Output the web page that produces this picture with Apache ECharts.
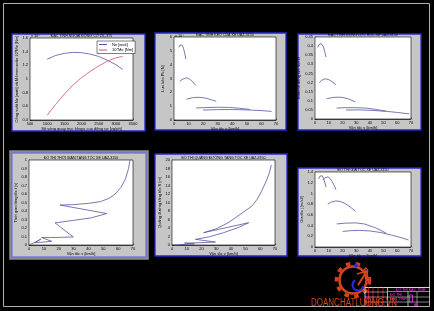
<!DOCTYPE html>
<html><head><meta charset="utf-8">
<script src="https://cdn.jsdelivr.net/npm/echarts@6/dist/echarts.min.js"></script>
<style>html,body{margin:0;padding:0;background:#000}#c{width:434px;height:311px}</style>
</head><body><div id="c"></div><script>
// ---------- DATA ----------
// Panel 1: engine external characteristic (values x 10^4)
const p1Rpm  = [1000,1250,1500,1750,2000,2250,2500,2750,3000,3200];
const p1Ne   = [1.29,1.345,1.375,1.39,1.385,1.365,1.33,1.275,1.21,1.14];
const p1Me10 = [0.47,0.63,0.78,0.91,1.02,1.11,1.19,1.26,1.31,1.33];
const p1Names = ['Ne [watt]','10*Me [Nm]'];

// Panel 2: traction force Pk (x 10^4 N) per gear, [v km/h, Pk]
const p2G1 = [[3.4,5.25],[4.2,5.42],[5.0,5.47],[5.8,5.4],[6.6,5.15],[7.4,4.8],[8.1,4.4]];
const p2G2 = [[3.9,2.8],[5.5,2.92],[7,3.0],[8.5,3.04],[10,3.0],[11.5,2.9],[13.2,2.72],[14.9,2.5]];
const p2G3 = [[8.5,1.5],[11,1.57],[13.5,1.62],[16.5,1.64],[19.5,1.62],[22.5,1.56],[25.8,1.46],[29,1.35]];
const p2G4 = [[15.3,0.87],[22,0.9],[30,0.92],[38,0.91],[45,0.85],[52,0.76]];
const p2G5 = [[20,0.72],[30,0.75],[40,0.76],[50,0.73],[60,0.68],[67,0.62]];

// Panel 3: dynamic factor D per gear
const p3G1 = [[1.9,0.393],[2.8,0.407],[3.6,0.413],[4.4,0.415],[5.3,0.41],[6.2,0.395],[7.1,0.37],[8,0.34]];
const p3G2 = [[3.1,0.2],[5,0.213],[6.5,0.219],[8,0.22],[10,0.216],[12,0.207],[13.7,0.198],[15.3,0.186]];
const p3G3 = [[8.5,0.111],[11.5,0.116],[14.5,0.119],[17.7,0.12],[21,0.117],[24.5,0.11],[29.4,0.094]];
const p3G4 = [[15.8,0.06],[22,0.062],[30,0.062],[37,0.06],[44,0.053],[51.8,0.043]];
const p3G5 = [[22.6,0.049],[32,0.05],[42,0.047],[52,0.042],[60,0.036],[68.8,0.028]];

// Panel 4: acceleration time (single MATLAB line through all gears) [v, t]
const p4Path = [[0.5,0.004],[4,0.03],[8,0.07],[4,0.027],[10,0.035],[15.3,0.043],
  [8.5,0.088],[15,0.088],[22,0.09],[29.8,0.095],
  [17.5,0.26],[30,0.29],[42,0.32],[52.3,0.37],
  [20.9,0.47],[30,0.475],[40,0.49],[48,0.51],[54,0.55],[58,0.6],[62,0.68],[65,0.78],[67,0.9],[68,1.0]];

// Panel 5: acceleration distance (single line) [v, S]
const p5Path = [[0.3,0],[4,0.03],[8,0.08],[5.6,0.06],[10,0.15],[15.3,0.25],
  [8.5,0.45],[15,0.5],[22,0.58],[29.5,0.7],
  [15.9,1.33],[25,1.9],[35,2.9],[45,4.1],[52.1,5.25],
  [21.5,2.9],[30,3.8],[38,5.2],[43,6.4],[48,7.6],[54.4,9.2],[58,10.8],[61.2,12.9],[64,15],[66,16.8],[67.5,18.8]];

// Panel 6: acceleration j per gear
const p6G1 = [[2.7,1.27],[3.5,1.32],[4.4,1.34],[5.3,1.33],[6.2,1.28],[7.1,1.21],[8,1.12]];
const p6G2 = [[5.6,1.25],[7,1.29],[8.3,1.31],[9.5,1.31],[11,1.28],[12.5,1.22],[14,1.15],[15.3,1.07]];
const p6G3 = [[9.3,0.8],[12,0.84],[15.3,0.86],[18.5,0.85],[22,0.81],[25.5,0.75],[29.4,0.67]];
const p6G4 = [[15.8,0.43],[22,0.445],[29.9,0.45],[36,0.43],[44,0.36],[51.8,0.26]];
const p6G5 = [[20.2,0.29],[26,0.305],[32.3,0.31],[40,0.3],[48,0.27],[56,0.22],[62,0.18],[68.3,0.13]];

const titles = [
  'ĐẶC TÍNH NGOÀI ĐỘNG CƠ ZIL-375',
  'ĐẶC TÍNH KÉO CỦA XE UAZ-3150',
  'ĐẶC TÍNH ĐỘNG LỰC HỌC XE UAZ-3150',
  'ĐỒ THỊ THỜI GIAN TĂNG TỐC XE UAZ-3150',
  'ĐỒ THỊ QUÃNG ĐƯỜNG TĂNG TỐC XE UAZ-3150',
  'ĐỒ THỊ GIA TỐC XE UAZ-3150'
];
const xNames = ['Số vòng quay trục khuỷu của động cơ [vg/ph]','Vận tốc v [km/h]','Vận tốc v [km/h]','Vận tốc v [km/h]','Vận tốc v [km/h]','Vận tốc v [km/h]'];
const yNames = ['Công suất Ne [watt] và Mômen xoắn 10*Me [Nm]','Lực kéo Pk [N]','Nhân tố động lực học D','Thời gian tăng tốc t [s]','Quãng đường tăng tốc S [m]','Gia tốc j [m/s2]'];
const xRanges = [[500,3500,500],[0,70,10],[0,70,10],[0,70,10],[0,70,10],[0,70,10]];
const yRanges = [[0.4,1.6,0.2],[0,6,1],[0,0.45,0.05],[0,1,0.1],[0,20,2],[0,1.4,0.2]];

// ---------- LAYOUT ----------
const grids = [
  {left:30, top:38, width:103, height:82},
  {left:174, top:37, width:102, height:83},
  {left:315, top:37, width:96, height:82},
  {left:29, top:160, width:104, height:85},
  {left:172, top:160, width:103, height:85},
  {left:315, top:172, width:96, height:75}
];
const panels = [
  [12,34,133,97],[155,33,131,97],[298,34,123,96],
  [12,153,134,104],[155,154,132,102],[298,168,123,88]
];
const FONT = 'Liberation Sans';
const LINE = '#55559e';
const RED = '#c4507a';

function fmt(v){ return String(+v.toFixed(2)); }

const option = {
  backgroundColor:'#000',
  animation:false,
  textStyle:{fontFamily:FONT},
  grid: grids.map(g => Object.assign({show:true, backgroundColor:'#fff', borderColor:'#000', borderWidth:0.6, z:1}, g)),
  xAxis: xRanges.map((r,i) => ({
    gridIndex:i, type:'value', min:r[0], max:r[1], interval:r[2],
    name:xNames[i], nameLocation:'middle', nameGap:6,
    nameTextStyle:{fontSize:4, color:'#000', fontFamily:FONT},
    axisLine:{show:true, onZero:false, lineStyle:{color:'#000', width:0.6}},
    axisTick:{show:true, inside:true, length:1.5, lineStyle:{color:'#000', width:0.5}},
    axisLabel:{fontSize:4, margin:2, color:'#000', formatter:fmt, fontFamily:FONT},
    splitLine:{show:true, lineStyle:{color:'#b8b8b8', width:0.5, type:[1,1]}}
  })),
  yAxis: yRanges.map((r,i) => ({
    gridIndex:i, type:'value', min:r[0], max:r[1], interval:r[2],
    name:yNames[i], nameLocation:'middle', nameGap:i===2?12:9, nameRotate:90,
    nameTextStyle:{fontSize:4, color:'#000', fontFamily:FONT},
    axisLine:{show:true, onZero:false, lineStyle:{color:'#000', width:0.6}},
    axisTick:{show:true, inside:true, length:1.5, lineStyle:{color:'#000', width:0.5}},
    axisLabel:{fontSize:4, margin:2, color:'#000', formatter:fmt, fontFamily:FONT},
    splitLine:{show:true, lineStyle:{color:'#b8b8b8', width:0.5, type:[1,1]}}
  })),
  title: titles.map((t,i) => ({
    text:t, left: grids[i].left + grids[i].width/2, top: grids[i].top - 4.2, textAlign:'center',
    textStyle:{fontSize:3.6, color:'#000', fontWeight:'normal', fontFamily:FONT}, padding:0
  })),
  legend:{
    data:p1Names, left:97, top:41, orient:'vertical', itemWidth:8, itemHeight:1, itemGap:1.5,
    padding:[1.5,2], backgroundColor:'#fff', borderColor:'#000', borderWidth:0.5,
    icon:'rect', textStyle:{fontSize:4, color:'#000', fontFamily:FONT}
  },
  series: [],
  graphic: []
};

function addLine(gi, data, color, name){
  const s = {type:'line', xAxisIndex:gi, yAxisIndex:gi, data:data, showSymbol:false, symbol:'none',
    lineStyle:{color:color, width:0.8}, itemStyle:{color:color}, z:3, smooth:false};
  if (name) s.name = name;
  option.series.push(s);
}
addLine(0, p1Rpm.map((x,k)=>[x,p1Ne[k]]), LINE, p1Names[0]);
addLine(0, p1Rpm.map((x,k)=>[x,p1Me10[k]]), RED, p1Names[1]);
[p2G1,p2G2,p2G3,p2G4,p2G5].forEach(d=>addLine(1,d,LINE));
[p3G1,p3G2,p3G3,p3G4,p3G5].forEach(d=>addLine(2,d,LINE));
addLine(3,p4Path,LINE);
addLine(4,p5Path,LINE);
[p6G1,p6G2,p6G3,p6G4,p6G5].forEach(d=>addLine(5,d,LINE));

// ---------- DECORATION (CAD sheet) ----------
const G = option.graphic;
G.push({type:'rect', shape:{x:3.5,y:3.5,width:426,height:303}, style:{fill:null, stroke:'#b0b0b0', lineWidth:1}, z:-5});
panels.forEach((p,i) => {
  if (i===3) G.push({type:'rect', shape:{x:p[0]-1.5,y:p[1]-1.5,width:p[2]+3,height:p[3]+3}, style:{fill:null, stroke:'#8c8c8c', lineWidth:2.5}, z:-4});
  G.push({type:'rect', shape:{x:p[0],y:p[1],width:p[2],height:p[3]}, style:{fill:'#c6c6c6', stroke: i===3?'#7b7bea':'#2626d4', lineWidth:1.3}, z:-3});
});
// exponent labels
G.push({type:'text', x:31, y:34.3, style:{text:'x 10⁴', fontSize:3.8, fill:'#000', fontFamily:FONT}, z:5});
G.push({type:'text', x:175, y:33.5, style:{text:'x 10⁴', fontSize:3.8, fill:'#000', fontFamily:FONT}, z:5});

// title block
const W='#d8d8d8', R='#e01818', M='#ff30ff';
function ln(x1,y1,x2,y2,c,w){ G.push({type:'line', shape:{x1:x1,y1:y1,x2:x2,y2:y2}, style:{stroke:c, lineWidth:w||0.8}, z:6}); }
ln(365,287.5,430,287.5,W,1);
ln(365,287.5,365,306.5,W,0.8);
[368.5,373,378,383].forEach(x=>ln(x,287.5,x,306.5,R,0.8));
ln(387.5,287.5,387.5,306.5,W,0.8);
ln(408,291.5,408,306.5,W,0.8);
ln(417,291.5,417,306.5,W,0.6);
ln(365,292,387.5,292,W,0.6);
ln(365,297,430,297,W,0.6);
ln(365,302,430,302,W,0.6);
ln(387.5,291.5,430,291.5,W,0.6);
G.push({type:'text', x:396, y:288.3, style:{text:'ĐỒ THỊ ĐẶC TÍNH', fontSize:3.5, fill:M, fontFamily:FONT}, z:7});
G.push({type:'text', x:390, y:293, style:{text:'ĐỒ THỊ\nĐẶC TÍNH', fontSize:3.5, fill:M, fontFamily:FONT, lineHeight:4}, z:7});
G.push({type:'text', x:364, y:296.5, style:{text:'TL 1:1', fontSize:3.5, fill:M, fontFamily:FONT}, z:7});
G.push({type:'rect', shape:{x:409.5,y:295,width:3,height:7}, style:{fill:null, stroke:M, lineWidth:0.8}, z:7});
G.push({type:'text', x:414, y:303, style:{text:'A0', fontSize:3.5, fill:M, fontFamily:FONT}, z:7});

// logo
const O='#d4441c', B='#2a2ad8';
G.push({type:'circle', shape:{cx:353,cy:280,r:16.5}, style:{fill:null, stroke:O, lineWidth:3.5, lineDash:[4.5,5.5]}, z:4});
G.push({type:'circle', shape:{cx:353,cy:280,r:13.5}, style:{fill:null, stroke:O, lineWidth:2.6}, z:4});
G.push({type:'arc', shape:{cx:358,cy:285,r:5.5,startAngle:0.2,endAngle:4.2}, style:{fill:null, stroke:B, lineWidth:2.2}, z:5});
G.push({type:'circle', shape:{cx:356,cy:265.5,r:2}, style:{fill:B}, z:5});
G.push({type:'circle', shape:{cx:366,cy:270,r:1.2}, style:{fill:B}, z:5});
G.push({type:'line', shape:{x1:358,y1:285,x2:367,y2:271}, style:{stroke:O, lineWidth:2}, z:5});
G.push({type:'line', shape:{x1:367,y1:271,x2:357,y2:274}, style:{stroke:O, lineWidth:1.6}, z:5});
G.push({type:'line', shape:{x1:367,y1:271,x2:368,y2:281}, style:{stroke:O, lineWidth:1.6}, z:5});
G.push({type:'text', x:311, y:298.5, scaleX:0.8, style:{text:'DOANCHATLUONG.VN', fontSize:10, fill:O, fontFamily:FONT}, z:8});

const chart = echarts.init(document.getElementById('c'), null, {renderer:'canvas'});
chart.setOption(option);
</script></body></html>
